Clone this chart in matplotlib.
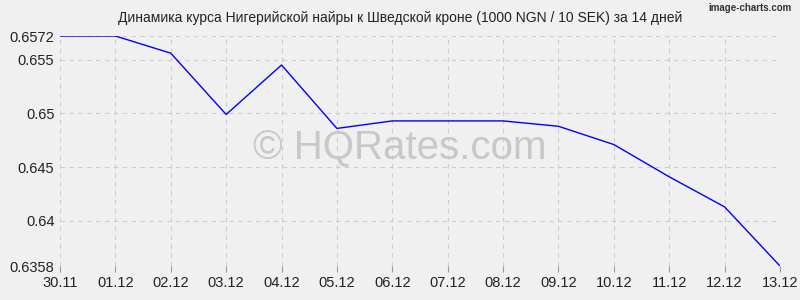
import matplotlib
matplotlib.use("Agg")
import matplotlib.pyplot as plt

# data
dates = ["30.11", "01.12", "02.12", "03.12", "04.12", "05.12", "06.12",
         "07.12", "08.12", "09.12", "10.12", "11.12", "12.12", "13.12"]
rates = [0.6572, 0.6572, 0.6556, 0.6499, 0.6545, 0.6486, 0.6493,
         0.6493, 0.6493, 0.6488, 0.6471, 0.6441, 0.6413, 0.6358]
y_ticks = [0.6358, 0.64, 0.645, 0.65, 0.655, 0.6572]
y_labels = ["0.6358", "0.64", "0.645", "0.65", "0.655", "0.6572"]

plt.rcParams['font.family'] = ['Liberation Sans', 'DejaVu Sans']

bg = "#f0f0f0"
fig = plt.figure(figsize=(8, 3), dpi=100, facecolor=bg)
ax = fig.add_axes([0.075, 0.1133, 0.9, 0.7667], facecolor=bg)

x = list(range(len(dates)))
ax.plot(x, rates, color="#0000ff", linewidth=1.0, zorder=3)

ax.set_xlim(0, len(dates) - 1)
ax.set_ylim(min(y_ticks), max(y_ticks))
ax.set_xticks(x)
ax.set_xticklabels(dates)
ax.set_yticks(y_ticks)
ax.set_yticklabels(y_labels)
ax.grid(True, color="#cccccc", linestyle=(0, (4, 4)), linewidth=0.8)
for s in ax.spines.values():
    s.set_visible(False)
ax.tick_params(axis="both", labelsize=10.5, colors="#999999", labelcolor="#222222",
               length=4, width=0.8)
ax.tick_params(axis="y", length=0, pad=4)

fig.text(0.5, 0.505, "© HQRates.com", ha="center", va="center",
         fontsize=29, color="#c8c8c8", zorder=1)

fig.text(0.5, 0.94, "Динамика курса Нигерийской найры к Шведской кроне (1000 NGN / 10 SEK) за 14 дней",
         ha="center", va="center", fontsize=10, color="#222222")
fig.text(0.99, 0.972, "image-charts.com", ha="right", va="center", fontsize=7,
         color="#333333", fontweight="bold")

fig.savefig("out.png", dpi=100, facecolor=bg)
